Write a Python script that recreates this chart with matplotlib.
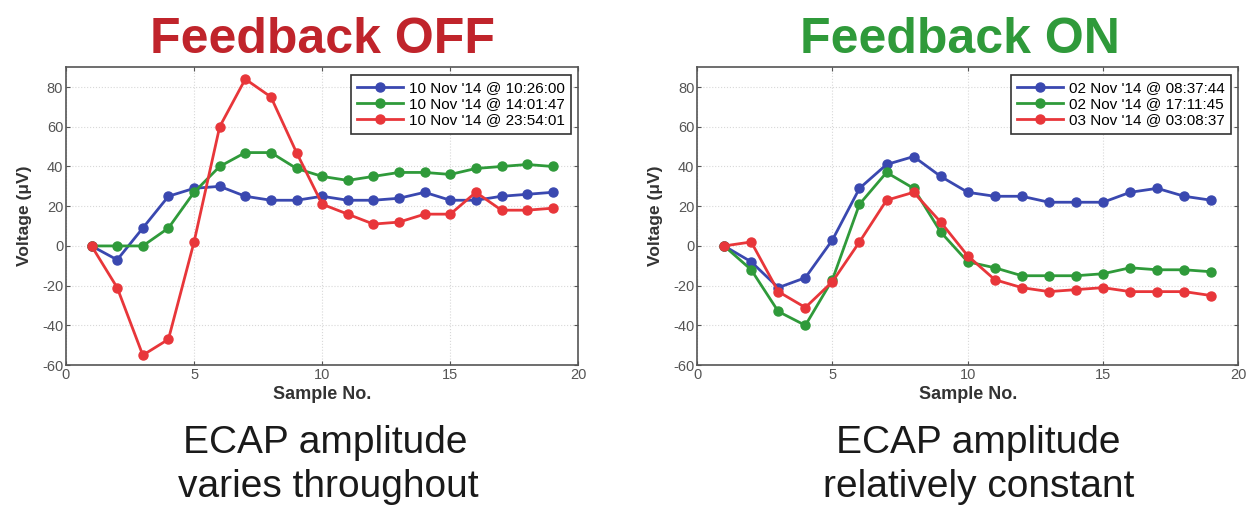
import matplotlib
matplotlib.use('Agg')
import matplotlib.pyplot as plt

plt.rcParams['font.family'] = ['Liberation Sans', 'DejaVu Sans']
plt.rcParams['axes.unicode_minus'] = False

samples = list(range(1, 20))

# Feedback OFF
off_labels = ["10 Nov '14 @ 10:26:00", "10 Nov '14 @ 14:01:47", "10 Nov '14 @ 23:54:01"]
off_blue = [0, -7, 9, 25, 29, 30, 25, 23, 23, 25, 23, 23, 24, 27, 23, 23, 25, 26, 27]
off_green = [0, 0, 0, 9, 27, 40, 47, 47, 39, 35, 33, 35, 37, 37, 36, 39, 40, 41, 40]
off_red = [0, -21, -55, -47, 2, 60, 84, 75, 47, 21, 16, 11, 12, 16, 16, 27, 18, 18, 19]

# Feedback ON
on_labels = ["02 Nov '14 @ 08:37:44", "02 Nov '14 @ 17:11:45", "03 Nov '14 @ 03:08:37"]
on_blue = [0, -8, -21, -16, 3, 29, 41, 45, 35, 27, 25, 25, 22, 22, 22, 27, 29, 25, 23]
on_green = [0, -12, -33, -40, -17, 21, 37, 29, 7, -8, -11, -15, -15, -15, -14, -11, -12, -12, -13]
on_red = [0, 2, -23, -31, -18, 2, 23, 27, 12, -5, -17, -21, -23, -22, -21, -23, -23, -23, -25]

colors = ['#3a48b0', '#2f9a3a', '#e8363a']

fig = plt.figure(figsize=(12.56, 5.05), dpi=100)
ax1 = fig.add_axes([0.0525, 0.277, 0.408, 0.590])
ax2 = fig.add_axes([0.555, 0.277, 0.431, 0.590])


def draw(ax, series, labels):
    for ys, lab, c in zip(series, labels, colors):
        ax.plot(samples, ys, '-o', color=c, lw=2, ms=6.5, mfc=c, mec=c, label=lab)
    ax.set_xlim(0, 20)
    ax.set_ylim(-60, 90)
    ax.set_xticks([0, 5, 10, 15, 20])
    ax.set_yticks(range(-60, 81, 20))
    ax.grid(True, color='#d8d8d8', ls=':', lw=0.8)
    ax.tick_params(direction='in', labelsize=10.5, colors='#555555', length=3, pad=2,
                   top=True, right=True)
    for s in ax.spines.values():
        s.set_color('#555555')
        s.set_linewidth(1.2)
    ax.set_xlabel('Sample No.', fontsize=13, fontweight='bold', color='#333333', labelpad=3)
    ax.set_ylabel('Voltage (\u03bcV)', fontsize=12.5, fontweight='bold', color='#333333', labelpad=7)
    leg = ax.legend(loc='upper right', fontsize=11, frameon=True, fancybox=False,
                    handlelength=3.0, handletextpad=0.4, borderpad=0.4,
                    labelspacing=0.15, borderaxespad=0.5)
    leg.get_frame().set_edgecolor('#333333')
    leg.get_frame().set_linewidth(1.2)
    leg.get_frame().set_alpha(1)


draw(ax1, [off_blue, off_green, off_red], off_labels)
draw(ax2, [on_blue, on_green, on_red], on_labels)

fig.text(0.257, 0.895, 'Feedback OFF', ha='center', va='baseline', fontsize=36,
         fontweight='bold', color='#c0242b')
fig.text(0.764, 0.895, 'Feedback ON', ha='center', va='baseline', fontsize=36,
         fontweight='bold', color='#2f9a3a')

# captions under each panel
fig.text(0.259, 0.103, 'ECAP amplitude', ha='center', va='baseline', fontsize=28, color='#1a1a1a')
fig.text(0.261, 0.016, 'varies throughout', ha='center', va='baseline', fontsize=28, color='#1a1a1a')
fig.text(0.779, 0.103, 'ECAP amplitude', ha='center', va='baseline', fontsize=28, color='#1a1a1a')
fig.text(0.779, 0.016, 'relatively constant', ha='center', va='baseline', fontsize=28, color='#1a1a1a')

fig.savefig('out.png', dpi=100)
